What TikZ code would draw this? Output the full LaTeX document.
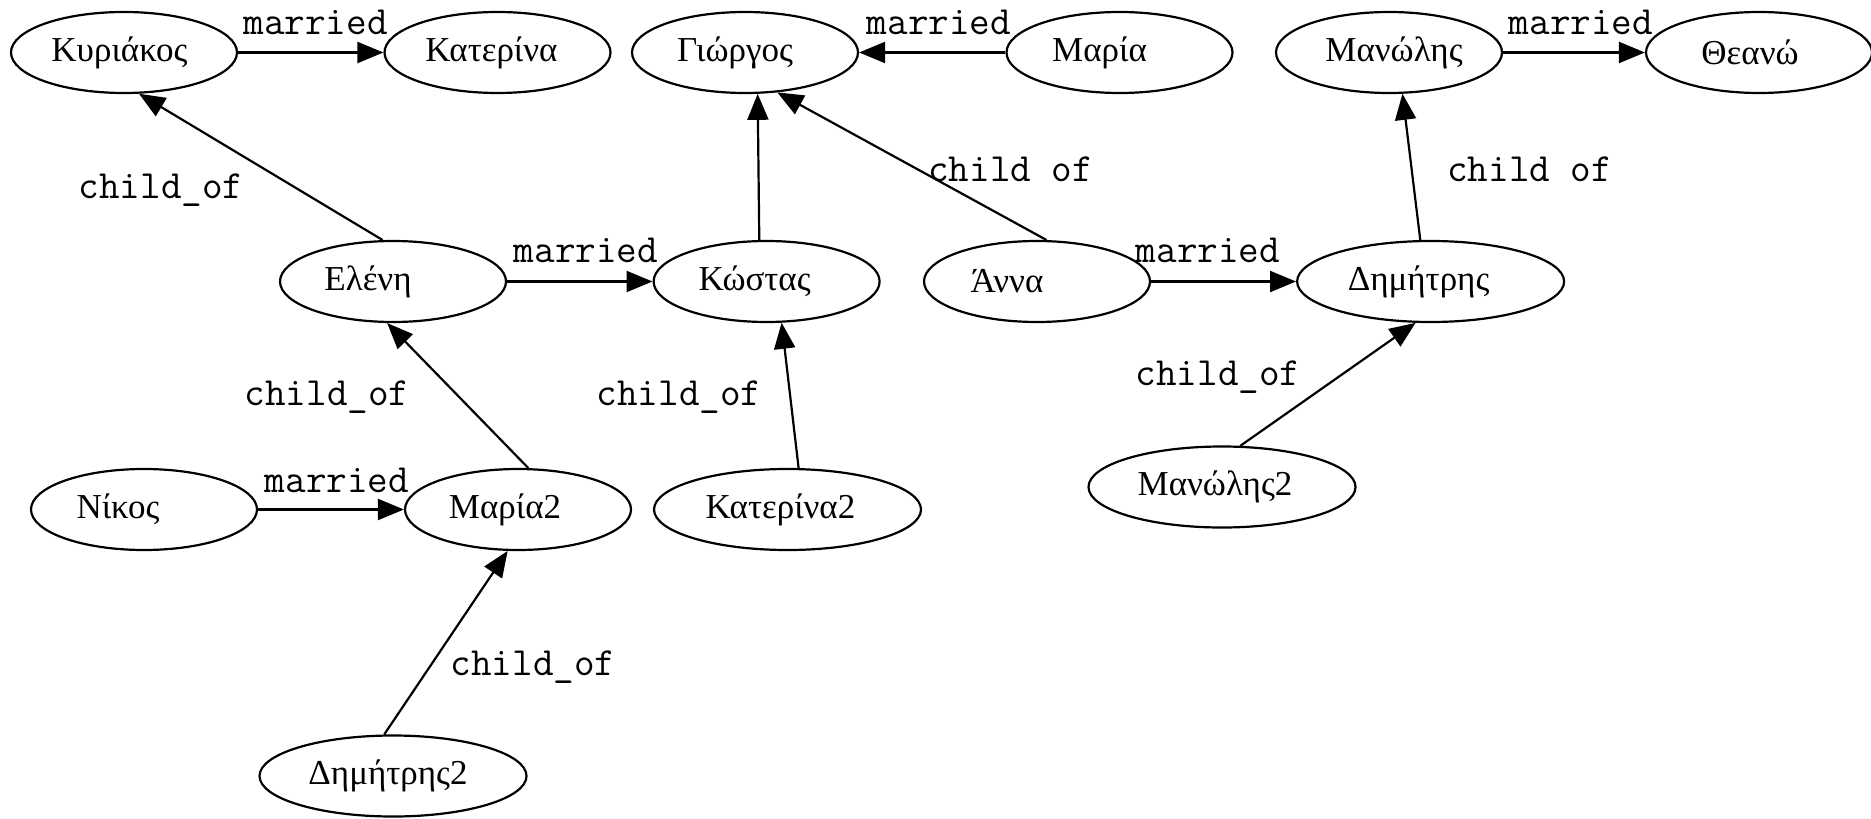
\documentclass[tikz,border=0pt]{standalone}
\usepackage{fontspec}
\setmainfont{Liberation Serif}
\usetikzlibrary{shapes.geometric,arrows.meta}

\begin{document}
\begin{tikzpicture}[x=0.5pt,y=-0.5pt,
  person/.style={ellipse,draw,line width=1.1pt,inner sep=0pt,
    minimum width=113pt,minimum height=40.5pt,
    font=\fontsize{17.5}{20}\selectfont},
  wideperson/.style={person,minimum width=133.5pt},
  % moves the name sideways inside its ellipse by #1 (in pixels, given as pt)
  nudge/.style={execute at begin node={\kern#1}},
  rel/.style={line width=1.1pt,-{Triangle[length=13pt,width=10.5pt]}},
  lbl/.style={font=\ttfamily\fontsize{20}{22}\selectfont,inner sep=0pt}]

\useasboundingbox (0,0) rectangle (1871,818);

% people
\node[person,nudge=-4.5pt] (kyr) at (124,52.5) {Κυριάκος};
\node[person,nudge=-6pt] (kat) at (497.5,52.5) {Κατερίνα};
\node[person,nudge=-10pt] (gio) at (745,52.5) {Γιώργος};
\node[person,nudge=-20pt] (mar) at (1119.5,52.5) {Μαρία};
\node[person,nudge=5pt] (man) at (1389,52.5) {Μανώλης};
\node[person,nudge=-9pt] (the) at (1759,52.5) {Θεανώ};

\node[person,nudge=-25pt] (ele) at (393,281.5) {Ελένη};
\node[person,nudge=-12pt] (kos) at (766.6,281.5) {Κώστας};
\node[person,nudge=-30pt] (ann) at (1037,281.5) {Άννα};
\node[wideperson,nudge=-12pt] (dim) at (1430.6,281.5) {Δημήτρης};

\node[person,nudge=-26pt] (nik) at (144,509.5) {Νίκος};
\node[person,nudge=-13pt] (mar2) at (518,509.5) {Μαρία2};
\node[wideperson,nudge=-7pt] (kat2) at (787.5,509.5) {Κατερίνα2};
\node[wideperson,nudge=-7pt] (man2) at (1222,487) {Μανώλης2};
\node[wideperson,nudge=-5pt] (dim2) at (393,776) {Δημήτρης2};

% marriages
\draw[rel] (kyr) -- (kat);
\draw[rel] (mar) -- (gio);
\draw[rel] (man) -- (the);
\draw[rel] (ele) -- (kos);
\draw[rel] (ann) -- (dim);
\draw[rel] (nik) -- (mar2);

% parent links
\draw[rel] (ele.104) -- (kyr.290);
\draw[rel] (kos.100) -- (gio.287);
\draw[rel] (ann.77) -- (gio.309);
\draw[rel] (dim.104) -- (man.288);
\draw[rel] (mar2.76) -- (ele.262);
\draw[rel] (kat2.75) -- (kos.290);
\draw[rel] (man2.66) -- (dim.250);
\draw[rel] (dim2.102) -- (mar2.256);

% edge labels
\node[lbl] (l1) at (315.6,22.7) {married};
\node[lbl] (l2) at (939,22.7) {married};
\node[lbl] (l3) at (1581,22.7) {married};
\node[lbl] (l4) at (161,190) {child\_of};
\node[lbl] (l5) at (1010.6,169) {child of};
\node[lbl] (l6) at (1529.7,169) {child of};
\node[lbl] (l7) at (586,250.6) {married};
\node[lbl] (l8) at (1208,250.6) {married};
\node[lbl] (l9) at (327,397.5) {child\_of};
\node[lbl] (l10) at (679,397.5) {child\_of};
\node[lbl] (l11) at (1218,377.5) {child\_of};
\node[lbl] (l12) at (337,480) {married};
\node[lbl] (l13) at (533,667.5) {child\_of};
\end{tikzpicture}
\end{document}
